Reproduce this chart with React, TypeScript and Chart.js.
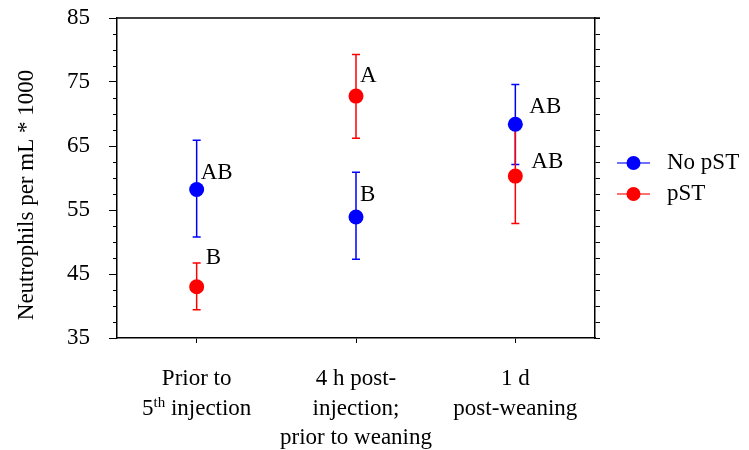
import React, { useEffect, useRef } from "react";
import { Chart, registerables } from "chart.js";

Chart.register(...registerables);

const categories: string[][] = [
  ["Prior to", "5^th injection"],
  ["4 h post-", "injection;", "prior to weaning"],
  ["1 d", "post-weaning"],
];
const seriesNames = ["No pST", "pST"];
const noPstMean = [58.2, 53.9, 68.4];
const noPstLow = [50.8, 47.3, 62.1];
const noPstHigh = [65.9, 60.9, 74.6];
const pstMean = [43.0, 72.8, 60.3];
const pstLow = [39.4, 66.2, 52.9];
const pstHigh = [46.7, 79.3, 67.8];
const noPstLetters = ["AB", "B", "AB"];
const pstLetters = ["B", "A", "AB"];
const yTickLabels = [35, 45, 55, 65, 75, 85];
const yMinorTicks = [37.5, 40, 42.5, 47.5, 50, 52.5, 57.5, 60, 62.5, 67.5, 70, 72.5, 77.5, 80, 82.5];
const yTitle = "Neutrophils per mL * 1000";

const BLUE = "#0000ff";
const RED = "#ff0000";
const FONT = "'Liberation Serif', 'Times New Roman', serif";

// label offsets (px) relative to point
const noPstLetterOffset = [[4, -17], [4, -22], [14, -17]];
const pstLetterOffset = [[9, -29], [4, -20], [16, -14]];

export default function App() {
  const ref = useRef<HTMLCanvasElement | null>(null);
  useEffect(() => {
    document.body.style.margin = "0";
    const canvas = ref.current!;
    const errPlugin = {
      id: "errbars",
      beforeDatasetsDraw(chart: any) {
        const ctx = chart.ctx;
        const x = chart.scales.x;
        const y = chart.scales.y;
        const sets = [
          { lo: noPstLow, hi: noPstHigh, c: BLUE },
          { lo: pstLow, hi: pstHigh, c: RED },
        ];
        ctx.save();
        for (const s of sets) {
          ctx.strokeStyle = s.c;
          ctx.lineWidth = 1.5;
          for (let i = 0; i < categories.length; i++) {
            const px = x.getPixelForValue(i);
            const yl = y.getPixelForValue(s.lo[i]);
            const yh = y.getPixelForValue(s.hi[i]);
            ctx.beginPath();
            ctx.moveTo(px, yl);
            ctx.lineTo(px, yh);
            ctx.moveTo(px - 4, yl);
            ctx.lineTo(px + 4, yl);
            ctx.moveTo(px - 4, yh);
            ctx.lineTo(px + 4, yh);
            ctx.stroke();
          }
        }
        ctx.restore();
      },
      afterDraw(chart: any) {
        const ctx = chart.ctx;
        const x = chart.scales.x;
        const y = chart.scales.y;
        const ca = chart.chartArea;
        ctx.save();
        // top border
        ctx.strokeStyle = "#000";
        ctx.lineWidth = 1.5;
        ctx.beginPath();
        ctx.moveTo(ca.left, ca.top);
        ctx.lineTo(ca.right + 5, ca.top);
        ctx.stroke();
        // minor ticks on left
        ctx.lineWidth = 1;
        ctx.beginPath();
        for (const v of yMinorTicks) {
          const py = Math.round(y.getPixelForValue(v)) + 0.5;
          ctx.moveTo(ca.left - 4, py);
          ctx.lineTo(ca.left, py);
        }
        ctx.stroke();
        // letters
        ctx.fillStyle = "#000";
        ctx.font = `23px ${FONT}`;
        ctx.textAlign = "left";
        ctx.textBaseline = "middle";
        for (let i = 0; i < categories.length; i++) {
          const px = x.getPixelForValue(i);
          ctx.fillText(noPstLetters[i], px + noPstLetterOffset[i][0], y.getPixelForValue(noPstMean[i]) + noPstLetterOffset[i][1]);
          ctx.fillText(pstLetters[i], px + pstLetterOffset[i][0], y.getPixelForValue(pstMean[i]) + pstLetterOffset[i][1]);
        }
        // x category labels
        ctx.textBaseline = "alphabetic";
        for (let i = 0; i < categories.length; i++) {
          const px = x.getPixelForValue(i);
          categories[i].forEach((line, j) => {
            const by = ca.bottom + 47 + j * 29.5;
            if (line.includes("^")) {
              const [a, rest] = line.split("^");
              const sup = rest.slice(0, 2);
              const tail = rest.slice(2);
              ctx.font = `23px ${FONT}`;
              const wa = ctx.measureText(a).width;
              const wt = ctx.measureText(tail).width;
              ctx.font = `15px ${FONT}`;
              const ws = ctx.measureText(sup).width;
              const total = wa + ws + wt;
              const sx = px - total / 2;
              ctx.textAlign = "left";
              ctx.font = `23px ${FONT}`;
              ctx.fillText(a, sx, by);
              ctx.font = `15px ${FONT}`;
              ctx.fillText(sup, sx + wa, by - 8);
              ctx.font = `23px ${FONT}`;
              ctx.fillText(tail, sx + wa + ws, by);
            } else {
              ctx.font = `23px ${FONT}`;
              ctx.textAlign = "center";
              ctx.fillText(line, px, by);
            }
          });
        }
        // y title
        ctx.save();
        ctx.translate(27, 195);
        ctx.rotate(-Math.PI / 2);
        ctx.font = `23px ${FONT}`;
        ctx.textAlign = "center";
        ctx.textBaseline = "middle";
        ctx.fillText(yTitle, 0, 0);
        ctx.restore();
        // legend
        const items = [
          { name: seriesNames[0], c: BLUE, yy: 163 },
          { name: seriesNames[1], c: RED, yy: 194 },
        ];
        for (const it of items) {
          ctx.strokeStyle = it.c;
          ctx.globalAlpha = 0.75;
          ctx.lineWidth = 1.5;
          ctx.beginPath();
          ctx.moveTo(617, it.yy);
          ctx.lineTo(650, it.yy);
          ctx.stroke();
          ctx.globalAlpha = 1;
          ctx.fillStyle = it.c;
          ctx.beginPath();
          ctx.arc(633.5, it.yy, 7, 0, Math.PI * 2);
          ctx.fill();
          ctx.fillStyle = "#000";
          ctx.font = `23px ${FONT}`;
          ctx.textAlign = "left";
          ctx.textBaseline = "middle";
          ctx.fillText(it.name, 667, it.yy);
        }
        ctx.restore();
      },
    };

    const chart = new Chart(canvas, {
      type: "line",
      data: {
        labels: categories.map((c) => c.join(" ")),
        datasets: [
          {
            label: seriesNames[1],
            data: pstMean,
            showLine: false,
            pointRadius: 7.5,
            pointBackgroundColor: RED,
            pointBorderColor: RED,
            pointBorderWidth: 0,
            borderColor: RED,
          },
          {
            label: seriesNames[0],
            data: noPstMean,
            showLine: false,
            pointRadius: 7.5,
            pointBackgroundColor: BLUE,
            pointBorderColor: BLUE,
            pointBorderWidth: 0,
            borderColor: BLUE,
          },
        ],
      },
      options: {
        animation: false,
        responsive: false,
        layout: { padding: { left: 0, right: 149, top: 18, bottom: 0 } },
        plugins: { legend: { display: false }, tooltip: { enabled: false } },
        scales: {
          x: {
            type: "category",
            offset: true,
            grid: { drawOnChartArea: false, offset: false, tickLength: 5, color: "#000", tickColor: "#000" },
            border: { color: "#000", width: 1.5 },
            ticks: { display: false },
            afterFit: (s: any) => { s.height = 112; },
          },
          y: {
            type: "linear",
            position: "left",
            min: 35,
            max: 85,
            grid: { drawOnChartArea: false, tickLength: 8, tickColor: "#000" },
            border: { color: "#000", width: 1.5 },
            afterBuildTicks: (s: any) => { s.ticks = yTickLabels.map((v) => ({ value: v })); },
            ticks: {
              autoSkip: false,
              padding: 19,
              color: "#000",
              font: { family: FONT, size: 23 },
              callback: (v: any) => String(v),
            },
            afterFit: (s: any) => {
              s.width = 117;
              s.paddingTop = 0;
              s.paddingBottom = 0;
            },
          },
          y2: {
            type: "linear",
            position: "right",
            min: 35,
            max: 85,
            grid: { drawOnChartArea: false, tickLength: 5, tickColor: "#000" },
            border: { color: "#000", width: 1.5 },
            ticks: { stepSize: 2.5, autoSkip: false, maxTicksLimit: 100, display: false },
            afterFit: (s: any) => {
              s.width = 5;
              s.paddingTop = 0;
              s.paddingBottom = 0;
            },
          },
        },
      },
      plugins: [errPlugin],
    });
    return () => chart.destroy();
  }, []);
  return (
    <div style={{ width: 749, height: 450, background: "#fff" }}>
      <canvas ref={ref} width={749} height={450} />
    </div>
  );
}
